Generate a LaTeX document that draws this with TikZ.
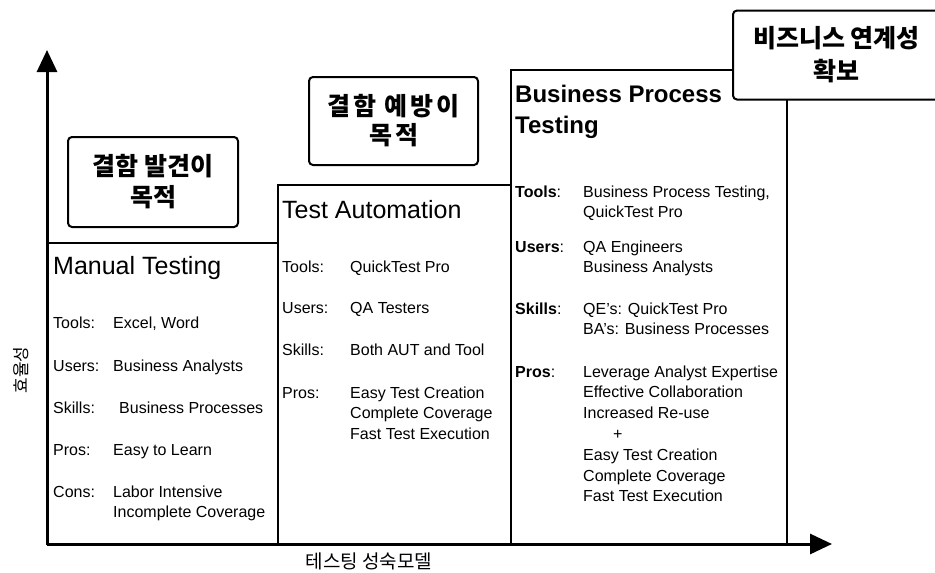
\documentclass[tikz,border=0pt]{standalone}
\usepackage{fontspec}
\setmainfont{Liberation Sans}
\newfontfamily\kr{Noto Sans CJK KR}
\usetikzlibrary{arrows.meta}

\begin{document}
\begin{tikzpicture}[x=1pt,y=-1pt,
  stage/.style={line width=1.2pt},
  goal/.style={draw,line width=2pt,rounded corners=4pt,fill=white,align=center,inner sep=0pt,
    font=\kr\bfseries\fontsize{25}{31}\selectfont},
  title/.style={anchor=base west,inner sep=0pt,font=\fontsize{25}{31}\selectfont},
  item/.style={anchor=base west,inner sep=0pt,align=left,font=\fontsize{16}{20.8}\selectfont},
  axis/.style={line width=3pt,-{Triangle[length=22pt,width=20pt]}}]
  \useasboundingbox (0,0) rectangle (935,573);
  \clip (0,0) rectangle (935,573);

  \draw[stage] (47,243) rectangle (278,544);
  \draw[stage] (278,185) rectangle (511,544);
  \draw[stage] (511,70) rectangle (787,544);

  \node[goal,minimum width=170,minimum height=90] (goalfind) at (153,182) {결함 발견이\\목적};
  \node[goal,minimum width=169,minimum height=88,
    font=\kr\bfseries\fontsize{25}{29}\selectfont\addfontfeature{LetterSpace=12}] (goalprevent) at (393.5,121) {결함 예방이\\목적};
  \node[goal,minimum width=207,minimum height=89,
    font=\kr\bfseries\fontsize{25}{33}\selectfont] (goalbiz) at (836.5,55) {비즈니스 연계성\\확보};

  % manual testing
  \node[title] (mt) at (53,274) {Manual Testing};
  \node[item] (mttools) at (53,328) {Tools:};
  \node[item] (mttoolsv) at (113,328) {Excel, Word};
  \node[item] (mtusers) at (53,371) {Users:};
  \node[item] (mtusersv) at (113,371) {Business Analysts};
  \node[item] (mtskills) at (53,413) {Skills:};
  \node[item] (mtskillsv) at (119,413) {Business Processes};
  \node[item] (mtpros) at (53,455) {Pros:};
  \node[item] (mtprosv) at (113,455) {Easy to Learn};
  \node[item] (mtcons) at (53,497) {Cons:};
  \node[item] (mtconsv) at (113,517.8) {Labor Intensive\\Incomplete Coverage};

  % test automation
  \node[title] (ta) at (282,218) {Test Automation};
  \node[item] (tatools) at (282,272) {Tools:};
  \node[item] (tatoolsv) at (350,272) {QuickTest Pro};
  \node[item] (tausers) at (282,313) {Users:};
  \node[item] (tausersv) at (350,313) {QA Testers};
  \node[item] (taskills) at (282,355) {Skills:};
  \node[item] (taskillsv) at (350,355) {Both AUT and Tool};
  \node[item] (tapros) at (282,398) {Pros:};
  \node[item] (taprosv) at (350,439.6) {Easy Test Creation\\Complete Coverage\\Fast Test Execution};

  % business process testing
  \node[title,font=\bfseries\fontsize{24}{31}\selectfont,align=left] (bpt) at (515,133) {Business Process\\Testing};
  \node[item] (bpttools) at (515,197) {\textbf{Tools}:};
  \node[item] (bpttoolsv) at (583,217.8) {Business Process Testing,\\QuickTest Pro};
  \node[item] (bptusers) at (515,252) {\textbf{Users}:};
  \node[item] (bptusersv) at (583,272.8) {QA Engineers\\Business Analysts};
  \node[item] (bptskills) at (515,314) {\textbf{Skills}:};
  \node[item] (bptskillsv) at (583,334.8) {QE's: QuickTest Pro\\BA's: Business Processes};
  \node[item] (bptpros) at (515,377) {\textbf{Pros}:};
  \node[item] (bptprosv) at (583,501.8) {Leverage Analyst Expertise\\Effective Collaboration\\Increased Re-use\\\hspace*{30pt}+\\Easy Test Creation\\Complete Coverage\\Fast Test Execution};

  % axes
  \coordinate (o) at (47,544);
  \coordinate (ytip) at (47,50);
  \coordinate (xtip) at (832,544);
  \draw[axis] (o) -- (ytip);
  \draw[axis] (o) -- (xtip);
  \node[rotate=90,font=\kr\fontsize{17}{17}\selectfont] (ylab) at (21,370) {효율성};
  \node[font=\kr\fontsize{19}{19}\selectfont] (xlab) at (369,561) {테스팅 성숙모델};
\end{tikzpicture}
\end{document}
